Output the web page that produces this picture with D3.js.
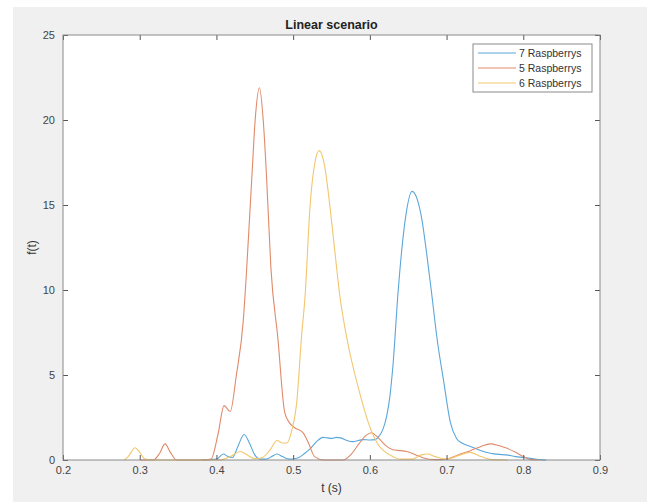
<!DOCTYPE html>
<html><head><meta charset="utf-8">
<script src="https://cdn.jsdelivr.net/npm/d3@7"></script>
<style>body{margin:0;background:#fff}svg{display:block}</style>
</head><body>
<svg id="chart" width="657" height="502"></svg>
<script>
const xTicks = [0.2, 0.3, 0.4, 0.5, 0.6, 0.7, 0.8, 0.9];
const yTicks = [0, 5, 10, 15, 20, 25];
const seriesNames = ["7 Raspberrys", "5 Raspberrys", "6 Raspberrys"];

const t7 = [0.38,0.40,0.409,0.415,0.421,0.428,0.436,0.443,0.45,0.457,0.465,0.472,0.479,0.486,0.495,0.505,0.514,0.522,0.531,0.539,0.545,0.55,0.556,0.562,0.57,0.578,0.585,0.591,0.60,0.607,0.612,0.617,0.622,0.626,0.63,0.637,0.646,0.655,0.662,0.668,0.675,0.68,0.688,0.696,0.705,0.713,0.72,0.731,0.745,0.757,0.768,0.778,0.79,0.80,0.812,0.822,0.83];
const f7 = [0,0.05,0.35,0.2,0.15,0.8,1.5,1.0,0.3,0.05,0.05,0.2,0.35,0.2,0.05,0.1,0.35,0.65,1.1,1.33,1.3,1.27,1.33,1.3,1.15,1.08,1.15,1.2,1.18,1.2,1.4,1.8,2.6,3.7,5.5,10.0,14.1,15.8,15.3,14.1,11.8,10.0,7.0,4.7,2.2,1.27,1.0,0.8,0.55,0.4,0.33,0.3,0.2,0.15,0.08,0.02,0];

const t5 = [0.30,0.318,0.326,0.333,0.34,0.348,0.38,0.393,0.402,0.41,0.418,0.426,0.435,0.4395,0.446,0.451,0.456,0.461,0.4655,0.471,0.48,0.489,0.495,0.502,0.513,0.52,0.528,0.54,0.565,0.575,0.585,0.595,0.602,0.61,0.622,0.63,0.64,0.648,0.66,0.67,0.685,0.70,0.715,0.731,0.745,0.757,0.768,0.778,0.79,0.80,0.81,0.82];
const f5 = [0,0,0.4,0.95,0.45,0,0,0.05,1.5,3.2,2.85,5.0,8.2,11.3,16.5,20.3,21.9,20.0,16.5,11.3,7.2,2.8,2.2,1.9,1.6,1.0,0.2,0,0,0.3,0.9,1.45,1.6,1.35,0.8,0.6,0.55,0.5,0.3,0.12,0.02,0.05,0.3,0.55,0.8,0.95,0.85,0.7,0.45,0.2,0.02,0];

const t6 = [0.28,0.285,0.294,0.30,0.307,0.315,0.40,0.41,0.42,0.431,0.44,0.45,0.46,0.47,0.479,0.486,0.492,0.498,0.5045,0.511,0.5155,0.522,0.528,0.534,0.541,0.548,0.555,0.561,0.567,0.573,0.587,0.598,0.605,0.611,0.626,0.64,0.655,0.667,0.675,0.685,0.70,0.715,0.73,0.745,0.76,0.78];
const f6 = [0,0.2,0.72,0.45,0.05,0,0,0.05,0.25,0.5,0.3,0.08,0.15,0.6,1.15,1.0,1.0,1.7,3.3,7.3,9.6,14.9,17.4,18.2,17.3,14.9,12.0,9.6,7.9,6.5,3.9,2.2,1.4,0.9,0.3,0.05,0.05,0.3,0.35,0.2,0.05,0.25,0.45,0.2,0.02,0];

const colors = ["#5ba6da", "#e08a6a", "#f2c66e"];

const svg = d3.select("#chart");
const font = "'Liberation Sans', Arial, Helvetica, sans-serif";

// figure background
svg.append("rect").attr("x",13).attr("y",7).attr("width",634).attr("height",495).attr("fill","#f0f0f0");

const L = 63, R = 600, T = 35, B = 460;
const x = d3.scaleLinear().domain([0.2, 0.9]).range([L, R]);
const y = d3.scaleLinear().domain([0, 25]).range([B, T]);

svg.append("rect").attr("x",L).attr("y",T).attr("width",R-L).attr("height",B-T).attr("fill","#fff");

const series = [
  {name: seriesNames[0], t: t7, f: f7, color: colors[0]},
  {name: seriesNames[1], t: t5, f: f5, color: colors[1]},
  {name: seriesNames[2], t: t6, f: f6, color: colors[2]}
];

const line = d3.line().x(d => x(d[0])).y(d => y(d[1])).curve(d3.curveMonotoneX);
const plot = svg.append("g");
series.forEach(s => {
  plot.append("path")
    .datum(s.t.map((tv, i) => [tv, s.f[i]]))
    .attr("fill","none").attr("stroke", s.color).attr("stroke-width",1.1)
    .attr("d", line);
});

function styleAxis(g){
  g.select(".domain").remove();
  g.selectAll(".tick line").attr("stroke","#555");
  g.selectAll(".tick text").attr("fill","#444").attr("font-family",font).attr("font-size",11);
}
svg.append("g").attr("transform",`translate(0,${B})`)
  .call(d3.axisBottom(x).tickValues(xTicks).tickFormat(d3.format(".1f")).tickSizeInner(-5).tickSizeOuter(0).tickPadding(6))
  .call(styleAxis);
svg.append("g").attr("transform",`translate(0,${T})`)
  .call(d3.axisTop(x).tickValues(xTicks).tickFormat("").tickSizeInner(-5).tickSizeOuter(0))
  .call(styleAxis);
svg.append("g").attr("transform",`translate(${L},0)`)
  .call(d3.axisLeft(y).tickValues(yTicks).tickSizeInner(-5).tickSizeOuter(0).tickPadding(8))
  .call(styleAxis);
svg.append("g").attr("transform",`translate(${R},0)`)
  .call(d3.axisRight(y).tickValues(yTicks).tickFormat("").tickSizeInner(-5).tickSizeOuter(0))
  .call(styleAxis);

// axes box
svg.append("rect").attr("x",L).attr("y",T).attr("width",R-L).attr("height",B-T)
  .attr("fill","none").attr("stroke","#8a8a8a").attr("stroke-width",1);

// title and labels
svg.append("text").attr("x",(L+R)/2).attr("y",29).attr("text-anchor","middle")
  .attr("font-family",font).attr("font-size",12.5).attr("font-weight","bold").attr("fill","#222")
  .text("Linear scenario");
svg.append("text").attr("x",(L+R)/2).attr("y",492).attr("text-anchor","middle")
  .attr("font-family",font).attr("font-size",12).attr("fill","#333").text("t (s)");
svg.append("text").attr("transform",`translate(36,${(T+B)/2}) rotate(-90)`).attr("text-anchor","middle")
  .attr("font-family",font).attr("font-size",12).attr("fill","#333").text("f(t)");

// legend
const lg = svg.append("g");
lg.append("rect").attr("x",473).attr("y",44).attr("width",119).attr("height",48)
  .attr("fill","#fff").attr("stroke","#8a8a8a").attr("stroke-width",1);
series.forEach((s, i) => {
  const ly = 53 + i*15;
  lg.append("line").attr("x1",478).attr("x2",516).attr("y1",ly).attr("y2",ly)
    .attr("stroke", s.color).attr("stroke-width",1.1);
  lg.append("text").attr("x",519).attr("y",ly).attr("dy","0.35em")
    .attr("font-family",font).attr("font-size",10.5).attr("fill","#333").text(s.name);
});
</script>
</body></html>
